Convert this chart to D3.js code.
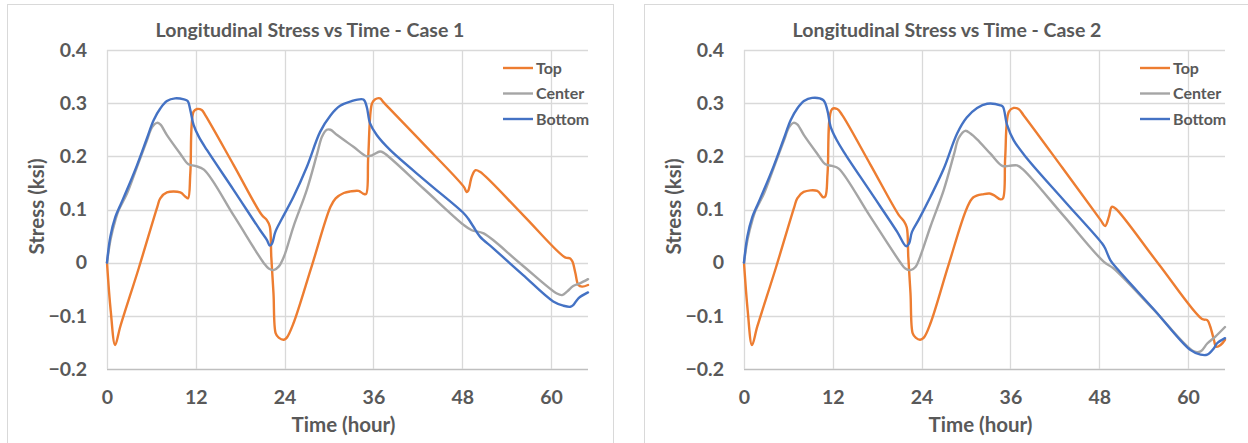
<!DOCTYPE html>
<html>
<head>
<meta charset="utf-8">
<script src="https://cdn.jsdelivr.net/npm/d3@7/dist/d3.min.js"></script>
<style>
  html, body { margin: 0; padding: 0; background: #fff; }
  svg { display: block; }
  text { font-family: Lato, "Open Sans", sans-serif; fill: #595959; font-weight: bold; }
</style>
</head>
<body>
<svg id="chart" width="1248" height="443"></svg>
<script>
// Axis ticks
const xTicks = [0, 12, 24, 36, 48, 60];
const yTicks = [-0.2, -0.1, 0, 0.1, 0.2, 0.3, 0.4];
const seriesNames = ["Top", "Center", "Bottom"];
const seriesColors = ["#ED7D31", "#A5A5A5", "#4472C4"];

// Case 1: [hour, stress ksi]
const case1Top = [
  [0, 0], [0.5, -0.09], [1.1, -0.155], [1.8, -0.12], [4.3, -0.01], [6.8, 0.105], [7.2, 0.121],
  [8.1, 0.132], [9.9, 0.132], [10.6, 0.124], [10.95, 0.121], [11.26, 0.168], [11.7, 0.284],
  [12.16, 0.289], [12.8, 0.287], [13.3, 0.277], [17.1, 0.184], [20.9, 0.09], [21.6, 0.08], [22.0, 0.068],
  [22.2, 0.011], [22.5, -0.058], [22.8, -0.133], [23.2, -0.141], [23.9, -0.145], [24.3, -0.141],
  [25.2, -0.114], [27.7, -0.005], [30.2, 0.105], [30.9, 0.121], [32.0, 0.131], [32.9, 0.134], [34.0, 0.135],
  [34.6, 0.130], [35.0, 0.129], [35.3, 0.199], [35.8, 0.299], [36.2, 0.307], [36.9, 0.309],
  [37.35, 0.302], [42.8, 0.223], [48.2, 0.143], [48.6, 0.133], [48.8, 0.135], [49.3, 0.162], [49.8, 0.174],
  [50.4, 0.171], [56.2, 0.090], [61.9, 0.010], [62.6, 0.008], [62.9, 0.002], [63.3, -0.02], [63.7, -0.042],
  [64.2, -0.045], [65, -0.042]
];
const case1Center = [
  [0, 0], [0.5, 0.045], [1.13, 0.080], [1.58, 0.099], [2.7, 0.130], [4.05, 0.180], [5.4, 0.230],
  [6.1, 0.255], [6.76, 0.263], [7.2, 0.260], [8.1, 0.240], [9.9, 0.205], [11.0, 0.185],
  [11.9, 0.182], [13.1, 0.175], [17.2, 0.087], [21.2, -0.001], [21.85, -0.011], [22.5, -0.014], [23.2, -0.0075],
  [23.9, 0.011], [25.2, 0.068], [27.0, 0.137], [28.4, 0.205], [29.05, 0.237], [29.7, 0.250],
  [30.2, 0.250], [31.1, 0.240], [33.3, 0.218], [35.1, 0.200], [35.8, 0.202], [36.9, 0.209],
  [37.35, 0.207], [42.8, 0.139], [48.2, 0.071], [49.3, 0.061], [50.9, 0.055], [55.8, -0.001], [60.8, -0.058], [61.5, -0.061],
  [62.2, -0.054], [63.0, -0.044], [63.9, -0.039], [65, -0.031]
];
const case1Bottom = [
  [0, 0], [0.45, 0.049], [1.13, 0.086], [1.8, 0.108], [2.7, 0.137], [4.05, 0.183], [5.4, 0.234],
  [6.3, 0.268], [7.2, 0.290], [8.1, 0.304], [9.2, 0.309], [10.4, 0.307], [10.9, 0.304],
  [11.26, 0.287], [11.7, 0.259], [12.4, 0.237], [13.5, 0.212], [17.1, 0.137], [20.7, 0.061], [21.6, 0.043],
  [22.0, 0.032], [22.3, 0.036], [22.75, 0.058], [23.65, 0.083], [25.2, 0.124], [27.0, 0.180],
  [28.8, 0.246], [30.2, 0.277], [31.5, 0.295], [32.85, 0.303], [34.65, 0.307], [35.1, 0.293],
  [35.55, 0.262], [36.45, 0.240], [38.25, 0.212], [43.2, 0.152], [48.2, 0.093], [48.8, 0.083], [49.5, 0.068],
  [50.4, 0.049], [52.2, 0.027], [56.2, -0.023], [60.3, -0.073], [61.7, -0.081], [62.6, -0.083], [63.0, -0.080],
  [63.7, -0.067], [65, -0.056]
];

// Case 2: [hour, stress ksi]
const case2Top = [
  [0, 0], [0.5, -0.09], [1.08, -0.155], [1.8, -0.12], [4.3, -0.01], [6.8, 0.105], [7.2, 0.121],
  [8.06, 0.133], [9.9, 0.135], [10.7, 0.123], [11.0, 0.125], [11.3, 0.17], [11.9, 0.289],
  [12.6, 0.289], [13.3, 0.277], [17.1, 0.184], [20.9, 0.09], [21.6, 0.078], [22.0, 0.066], [22.2, 0.011],
  [22.5, -0.058], [22.8, -0.133], [23.2, -0.141], [23.8, -0.145], [24.3, -0.141], [25.2, -0.114],
  [27.6, -0.006], [30.1, 0.102], [31.0, 0.123], [32.4, 0.129], [33.2, 0.130], [33.75, 0.127], [34.65, 0.119],
  [35.0, 0.121], [35.3, 0.199], [35.8, 0.284], [36.45, 0.291], [37.1, 0.289], [37.8, 0.277],
  [43.0, 0.179], [48.2, 0.080], [48.8, 0.069], [49.3, 0.086], [49.7, 0.105], [50.2, 0.102], [56.0, -0.002],
  [61.9, -0.106], [62.6, -0.108], [63.0, -0.12], [63.5, -0.145], [63.8, -0.158], [64.4, -0.155], [65, -0.145]
];
const case2Center = [
  [0, 0], [0.5, 0.045], [1.13, 0.080], [1.58, 0.099], [2.7, 0.130], [4.05, 0.180], [5.4, 0.230],
  [6.1, 0.255], [6.7, 0.263], [7.2, 0.260], [8.1, 0.240], [9.9, 0.205], [11.0, 0.185],
  [11.9, 0.182], [12.8, 0.177], [17.0, 0.088], [21.2, -0.001], [21.8, -0.011], [22.5, -0.014], [23.2, -0.0075],
  [23.8, 0.011], [25.2, 0.068], [27.0, 0.137], [28.4, 0.205], [29.0, 0.234], [29.9, 0.248],
  [30.6, 0.243], [31.5, 0.232], [33.3, 0.205], [34.9, 0.182], [35.8, 0.182], [36.9, 0.183],
  [37.8, 0.174], [43.2, 0.088], [48.6, 0.002], [49.96, -0.011], [55.4, -0.089], [60.8, -0.167], [61.7, -0.167], [62.6, -0.152],
  [63.7, -0.139], [65, -0.121]
];
const case2Bottom = [
  [0, 0], [0.45, 0.049], [1.13, 0.086], [1.8, 0.108], [2.7, 0.137], [4.05, 0.183], [5.4, 0.234],
  [6.3, 0.268], [7.2, 0.290], [8.1, 0.304], [9.2, 0.310], [10.7, 0.306], [11.26, 0.287],
  [11.7, 0.256], [12.4, 0.234], [13.5, 0.208], [17.1, 0.133], [20.7, 0.058], [21.9, 0.031], [22.3, 0.036],
  [22.7, 0.058], [23.65, 0.082], [25.2, 0.124], [27.0, 0.177], [28.8, 0.243], [30.1, 0.273],
  [31.5, 0.291], [32.85, 0.299], [34.65, 0.296], [35.0, 0.293], [35.55, 0.259], [36.45, 0.230],
  [38.25, 0.196], [43.3, 0.116], [48.4, 0.036], [48.8, 0.027], [49.5, 0.005], [50.4, -0.011], [55.4, -0.088], [60.3, -0.164],
  [61.7, -0.173], [62.6, -0.173], [63.5, -0.161], [63.9, -0.152], [65, -0.142]
];

const charts = [
  { title: "Longitudinal Stress vs Time - Case 1", series: [case1Top, case1Center, case1Bottom], dx: 0 },
  { title: "Longitudinal Stress vs Time - Case 2", series: [case2Top, case2Center, case2Bottom], dx: 637 }
];

const svg = d3.select("#chart");

function drawChart(cfg) {
  const g = svg.append("g").attr("transform", `translate(${cfg.dx},0)`);

  // chart frame
  g.append("rect")
    .attr("x", 7.5).attr("y", 4.5).attr("width", 606).attr("height", 480)
    .attr("fill", "#fff").attr("stroke", "#d9d9d9").attr("stroke-width", 1);

  const x = d3.scaleLinear().domain([0, 65]).range([107, 588]);
  const y = d3.scaleLinear().domain([-0.2, 0.4]).range([369, 50]);

  // gridlines
  const grid = g.append("g");
  grid.selectAll("line.h").data(yTicks).join("line")
    .attr("x1", x(0)).attr("x2", x(65))
    .attr("y1", d => Math.round(y(d)) + 0.5).attr("y2", d => Math.round(y(d)) + 0.5)
    .attr("stroke", d => d === -0.2 ? "#bfbfbf" : "#d9d9d9").attr("stroke-width", 1.3);
  grid.selectAll("line.v").data(xTicks).join("line")
    .attr("x1", d => Math.round(x(d)) + 0.5).attr("x2", d => Math.round(x(d)) + 0.5)
    .attr("y1", y(0.4)).attr("y2", y(-0.2))
    .attr("stroke", "#d9d9d9").attr("stroke-width", 1.3);

  // axes (labels only)
  const yAxis = g.append("g").attr("transform", `translate(${x(0) - 20},0)`)
    .call(d3.axisLeft(y).tickValues(yTicks).tickSize(0).tickPadding(0)
      .tickFormat(d => d === 0 ? "0" : d3.format(".1f")(d)));
  yAxis.select(".domain").remove();
  yAxis.selectAll("text").attr("font-size", 19.5).attr("fill", "#595959")
    .style("font-family", "Lato, sans-serif").style("font-weight", "bold");

  const xAxis = g.append("g").attr("transform", `translate(0,${y(-0.2) + 21})`)
    .call(d3.axisBottom(x).tickValues(xTicks).tickSize(0).tickPadding(0));
  xAxis.select(".domain").remove();
  xAxis.selectAll("text").attr("font-size", 19.5).attr("fill", "#595959").attr("dy", "0.71em")
    .style("font-family", "Lato, sans-serif").style("font-weight", "bold");

  // series lines (smoothed)
  const line = d3.line().x(d => x(d[0])).y(d => y(d[1])).curve(d3.curveCatmullRom.alpha(0.5));
  cfg.series.forEach((s, i) => {
    g.append("path").datum(s)
      .attr("fill", "none").attr("stroke", seriesColors[i])
      .attr("stroke-width", 2.4).attr("stroke-linejoin", "round").attr("stroke-linecap", "round")
      .attr("d", line);
  });

  // title
  g.append("text").attr("x", 310).attr("y", 37).attr("text-anchor", "middle")
    .attr("font-size", 19.5).text(cfg.title);

  // axis titles
  g.append("text").attr("x", (x(0) + x(65)) / 2 - 4).attr("y", 432).attr("text-anchor", "middle")
    .attr("font-size", 20.5).text("Time (hour)");
  g.append("text").attr("transform", `translate(44,${(y(0.4) + y(-0.2)) / 2 - 3}) rotate(-90)`)
    .attr("text-anchor", "middle").attr("font-size", 20.5).text("Stress (ksi)");

  // legend
  const lg = g.append("g");
  seriesNames.forEach((n, i) => {
    const ly = 68 + i * 25.5;
    lg.append("line").attr("x1", 503).attr("x2", 533).attr("y1", ly).attr("y2", ly)
      .attr("stroke", seriesColors[i]).attr("stroke-width", 2.4);
    lg.append("text").attr("x", 536).attr("y", ly).attr("dy", "0.35em")
      .attr("font-size", 16).text(n);
  });
}

charts.forEach(drawChart);
</script>
</body>
</html>
